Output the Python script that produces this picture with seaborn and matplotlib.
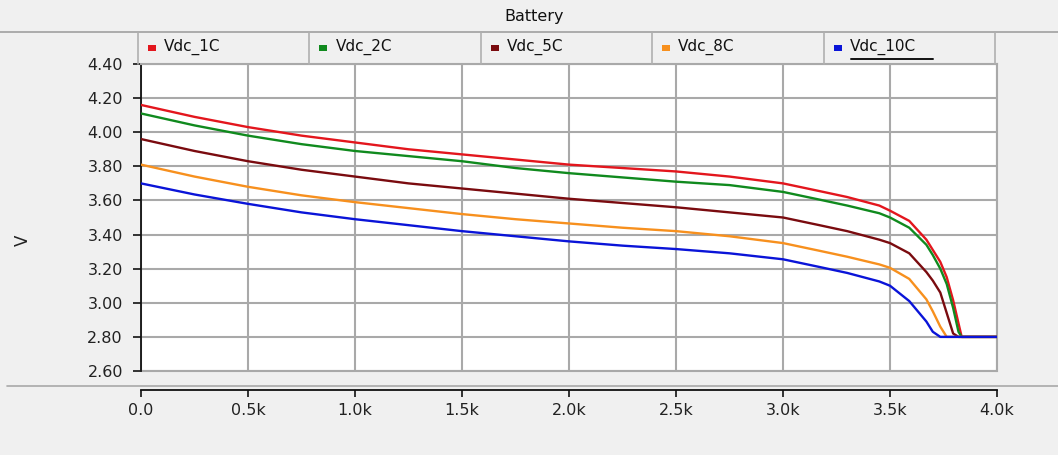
import matplotlib
matplotlib.use("Agg")
import matplotlib.pyplot as plt
from matplotlib.lines import Line2D
from matplotlib.patches import Rectangle
import pandas as pd
import seaborn as sns

# Discharge capacity (x axis) shared by all curves
capacity = [0, 250, 500, 750, 1000, 1250, 1500, 1750, 2000, 2250, 2500, 2750,
            3000, 3170, 3300, 3450, 3500, 3590, 3670, 3700, 3735, 3765, 3795,
            3820, 3835, 4000]

vdc_1c = [4.16, 4.09, 4.03, 3.98, 3.94, 3.90, 3.87, 3.84, 3.81, 3.79, 3.77, 3.74,
          3.70, 3.655, 3.62, 3.57, 3.54, 3.48, 3.37, 3.31, 3.24, 3.15, 3.015,
          2.88, 2.80, 2.80]
vdc_2c = [4.11, 4.04, 3.98, 3.93, 3.89, 3.86, 3.83, 3.79, 3.76, 3.735, 3.71, 3.69,
          3.65, 3.605, 3.57, 3.525, 3.50, 3.44, 3.34, 3.28, 3.20, 3.11, 2.97,
          2.83, 2.80, 2.80]
vdc_5c = [3.96, 3.89, 3.83, 3.78, 3.74, 3.70, 3.67, 3.64, 3.61, 3.585, 3.56, 3.53,
          3.50, 3.455, 3.42, 3.37, 3.35, 3.29, 3.18, 3.13, 3.06, 2.94, 2.82,
          2.80, 2.80, 2.80]
vdc_8c = [3.81, 3.74, 3.68, 3.63, 3.59, 3.555, 3.52, 3.49, 3.465, 3.44, 3.42, 3.39,
          3.35, 3.305, 3.27, 3.225, 3.205, 3.14, 3.02, 2.95, 2.86, 2.80, 2.80,
          2.80, 2.80, 2.80]
vdc_10c = [3.70, 3.635, 3.58, 3.53, 3.49, 3.455, 3.42, 3.39, 3.36, 3.335, 3.315, 3.29,
           3.255, 3.21, 3.175, 3.125, 3.10, 3.01, 2.89, 2.83, 2.80, 2.80, 2.80,
           2.80, 2.80, 2.80]

series_names = ["Vdc_1C", "Vdc_2C", "Vdc_5C", "Vdc_8C", "Vdc_10C"]
series_values = [vdc_1c, vdc_2c, vdc_5c, vdc_8c, vdc_10c]
series_colors = ["#e3161d", "#108a1e", "#7a0b0f", "#f7901e", "#0a14d8"]

x_ticks = [0, 500, 1000, 1500, 2000, 2500, 3000, 3500, 4000]
x_tick_labels = ["0.0", "0.5k", "1.0k", "1.5k", "2.0k", "2.5k", "3.0k", "3.5k", "4.0k"]
y_ticks = [2.60, 2.80, 3.00, 3.20, 3.40, 3.60, 3.80, 4.00, 4.20, 4.40]
y_tick_labels = [f"{v:.2f}" for v in y_ticks]

title_text = "Battery"
y_label = "V"

# long-form table for seaborn
df = pd.concat(
    [pd.DataFrame({"capacity": capacity, "voltage": vals, "series": name})
     for name, vals in zip(series_names, series_values)],
    ignore_index=True,
)

W, H = 1058, 455
BG = "#f0f0f0"
GRID = "#a9a9a9"

sns.set_theme(style="white")
plt.rcParams["font.family"] = ["DejaVu Sans"]

fig = plt.figure(figsize=(W / 100, H / 100), dpi=100, facecolor=BG)


def fx(px):
    return px / W


def fy(py):
    return 1 - py / H


ax = fig.add_axes([fx(141), fy(371), fx(997) - fx(141), fy(64) - fy(371)])
ax.set_facecolor("white")

sns.lineplot(data=df, x="capacity", y="voltage", hue="series",
             hue_order=series_names, palette=series_colors, estimator=None,
             sort=False, legend=False, linewidth=1.7, ax=ax, zorder=3)

ax.set_xlim(0, 4000)
ax.set_ylim(2.6, 4.4)
ax.set_xticks(x_ticks)
ax.set_xticklabels(x_tick_labels)
ax.set_yticks(y_ticks)
ax.set_yticklabels(y_tick_labels)
ax.set_xlabel("")
ax.set_ylabel("")
ax.grid(True, color=GRID, linewidth=1.5)

for side in ("top", "right"):
    ax.spines[side].set_color(GRID)
    ax.spines[side].set_linewidth(1.5)
ax.spines["left"].set_color("#111111")
ax.spines["left"].set_linewidth(1.3)
ax.spines["bottom"].set_color("#111111")
ax.spines["bottom"].set_linewidth(1.3)
ax.spines["bottom"].set_position(("outward", 13.7))
ax.axhline(2.6, color=GRID, linewidth=1.5, clip_on=False, zorder=2)

ax.tick_params(axis="y", direction="out", length=6, width=1.2, color="#111111",
               labelsize=11.5, pad=7, labelcolor="#222222", left=True)
ax.tick_params(axis="x", direction="out", length=5, width=1.2, color="#111111",
               labelsize=11.5, pad=4, labelcolor="#222222", bottom=True)

# header strip and separator lines
fig.add_artist(Line2D([0, 1], [fy(32), fy(32)], transform=fig.transFigure,
                      color="#a0a0a0", linewidth=1.2))
fig.add_artist(Line2D([fx(7), 1], [fy(386), fy(386)], transform=fig.transFigure,
                      color="#a8a8a8", linewidth=1.2))
fig.text(fx(534), fy(16), title_text, ha="center", va="center",
         fontsize=11.5, color="#111111")
fig.text(fx(23), fy(240), y_label, ha="center", va="center", rotation=90,
         fontsize=12, color="#222222")

# legend cells above the plot
cell_left, cell_right = 138, 995
cell_w = (cell_right - cell_left) / len(series_names)
for i in range(len(series_names) + 1):
    xe = cell_left + i * cell_w
    fig.add_artist(Line2D([fx(xe), fx(xe)], [fy(33), fy(64)],
                          transform=fig.transFigure, color="#b0b0b0", linewidth=1.2))
for i, (name, col) in enumerate(zip(series_names, series_colors)):
    x0 = cell_left + i * cell_w
    fig.add_artist(Rectangle((fx(x0 + 10), fy(51)), 8 / W, 6 / H,
                             transform=fig.transFigure, facecolor=col,
                             edgecolor="none"))
    fig.text(fx(x0 + 26), fy(47), name, ha="left", va="center",
             fontsize=11, color="#111111")
# underline marking the selected trace
fig.add_artist(Line2D([fx(851), fx(933)], [fy(58.5), fy(58.5)],
                      transform=fig.transFigure, color="#111111", linewidth=1.4))

fig.savefig("out.png", dpi=100, facecolor=BG)
